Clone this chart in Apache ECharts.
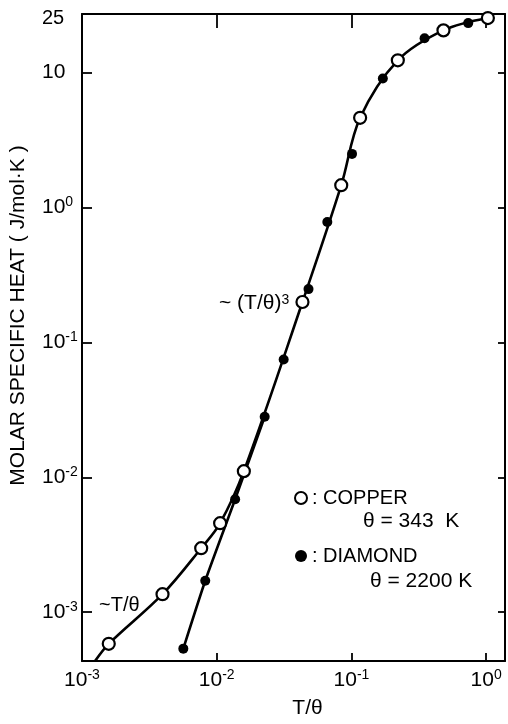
<!DOCTYPE html>
<html><head><meta charset="utf-8">
<script src="https://cdn.jsdelivr.net/npm/echarts@6/dist/echarts.min.js"></script>
<style>html,body{margin:0;padding:0;background:#fff}#c{width:508px;height:724px}</style>
</head><body><div id="c"></div>
<script>
// T/theta, molar specific heat (J/mol K)
const copper = [[1.58e-3,5.83e-4],[3.96e-3,1.36e-3],[7.67e-3,2.98e-3],[1.06e-2,4.57e-3],[1.59e-2,1.11e-2],[4.33e-2,0.199],[8.40e-2,1.46],[0.116,4.61],[0.221,12.3],[0.482,20.5],[1.03,25.3]];
const diamond = [[5.65e-3,5.37e-4],[8.22e-3,1.71e-3],[1.37e-2,6.87e-3],[2.27e-2,2.81e-2],[3.14e-2,7.47e-2],[4.80e-2,0.248],[6.62e-2,0.778],[0.101,2.49],[0.171,9.02],[0.349,17.9],[0.736,23.2]];
const copperCurveStart = [[1.25e-3,4.35e-4]];
const diamondBranchCount = 4;
const xTickValues = [1e-3,1e-2,1e-1,1];
const yTickValues = [1e-3,1e-2,1e-1,1,10];
const yLabelValues = [1e-3,1e-2,1e-1,1,10,25];
const xRange = [1e-3,1.38];
const yRange = [4.35e-4,27.1];

const FONT = '"Liberation Sans", Arial, sans-serif';
const rich = {
  b:{fontSize:21,fontFamily:FONT,color:'#000',lineHeight:24},
  s:{fontSize:20,fontFamily:FONT,color:'#000',lineHeight:24},
  sup:{fontSize:14,fontFamily:FONT,color:'#000',verticalAlign:'top',lineHeight:22}
};
function pow10Label(v){
  const e=Math.log10(v), r=Math.round(e);
  if(Math.abs(e-r)>1e-6){ return Math.abs(v-25)<0.5 ? '{s|25}' : ''; }
  if(r===1) return '{b|10}';
  return '{b|10}{sup|'+r+'}';
}
const black='#000';
const chart=echarts.init(document.getElementById('c'),null,{renderer:'canvas'});
chart.setOption({
  animation:false,
  backgroundColor:'#fff',
  grid:{left:79,right:3,top:14,bottom:55,containLabel:false},
  legend:{orient:'vertical',left:289,top:483,itemWidth:12,itemHeight:12,itemGap:38,
    textStyle:{fontSize:20,fontFamily:FONT,color:black},
    formatter:n=>': '+n,data:['COPPER','DIAMOND']},
  xAxis:[
    {type:'log',logBase:10,min:xRange[0],max:xRange[1],position:'bottom',
     name:'T/θ',nameLocation:'middle',nameGap:37,
     nameTextStyle:{fontSize:21,fontFamily:FONT,color:black,padding:[0,0,0,28]},
     axisLine:{lineStyle:{color:black,width:2}},
     axisTick:{inside:true,length:8,lineStyle:{color:black,width:1.8},customValues:xTickValues},
     axisLabel:{margin:7,formatter:pow10Label,rich:rich,customValues:xTickValues},
     splitLine:{show:false},minorTick:{show:false}},
    {type:'log',logBase:10,min:xRange[0],max:xRange[1],position:'top',
     axisLine:{lineStyle:{color:black,width:2}},
     axisTick:{inside:true,length:14,lineStyle:{color:black,width:1.8},customValues:xTickValues},
     axisLabel:{show:false},splitLine:{show:false}}
  ],
  yAxis:[
    {type:'log',logBase:10,min:yRange[0],max:yRange[1],position:'left',
     name:'MOLAR SPECIFIC HEAT ( J/mol·K )',nameLocation:'middle',nameGap:53,
     nameTextStyle:{fontSize:21,fontFamily:FONT,color:black,padding:[0,0,0,44]},
     axisLine:{lineStyle:{color:black,width:2}},
     axisTick:{inside:true,length:10,lineStyle:{color:black,width:1.8},customValues:yTickValues},
     axisLabel:{margin:40,align:'left',formatter:pow10Label,rich:rich,customValues:yLabelValues},
     splitLine:{show:false},minorTick:{show:false}},
    {type:'log',logBase:10,min:yRange[0],max:yRange[1],position:'right',
     axisLine:{lineStyle:{color:black,width:2}},
     axisTick:{inside:true,length:7,lineStyle:{color:black,width:1.8},customValues:yTickValues},
     axisLabel:{show:false},splitLine:{show:false}}
  ],
  series:[
    {name:'copper curve',type:'line',data:copperCurveStart.concat(copper),smooth:0.35,
     showSymbol:false,symbol:'none',lineStyle:{color:black,width:2.6},z:2,silent:true},
    {name:'diamond curve',type:'line',data:diamond.slice(0,diamondBranchCount),smooth:0.2,
     showSymbol:false,symbol:'none',lineStyle:{color:black,width:2.6},z:2,silent:true},
    {name:'COPPER',type:'scatter',data:copper,symbol:'circle',symbolSize:12,
     itemStyle:{color:'#fff',borderColor:black,borderWidth:2.2,opacity:1},z:4},
    {name:'DIAMOND',type:'scatter',data:diamond,symbol:'circle',symbolSize:10,
     itemStyle:{color:black,opacity:1},z:4}
  ],
  graphic:[
    {type:'text',left:363,top:511,style:{text:'θ = 343  K',fontSize:21,fontFamily:FONT,fill:black}},
    {type:'text',left:370,top:571,style:{text:'θ = 2200 K',fontSize:21,fontFamily:FONT,fill:black}},
    {type:'text',left:219,top:293,style:{text:'~ (T/θ){sup|3}',fontSize:21,fontFamily:FONT,fill:black,
      rich:{sup:{fontSize:14,fontFamily:FONT,fill:black,verticalAlign:'top'}}}},
    {type:'text',left:99,top:595,style:{text:'~T/θ',fontSize:20,fontFamily:FONT,fill:black}}
  ]
});
</script></body></html>
